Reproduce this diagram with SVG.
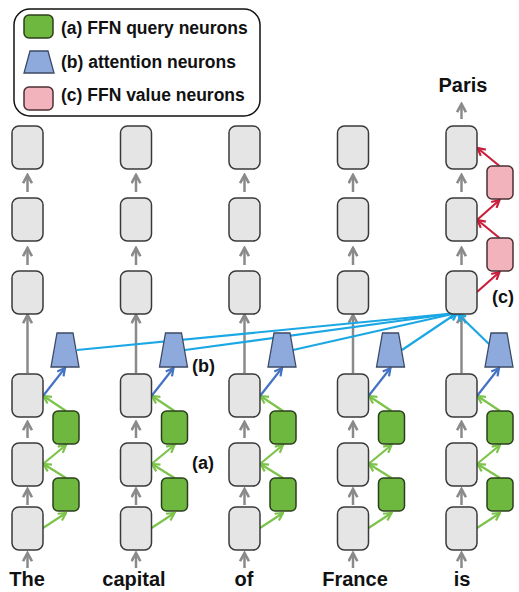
<svg xmlns="http://www.w3.org/2000/svg" width="519" height="592" viewBox="0 0 519 592">
<style>
.box{fill:#e5e5e5;stroke:#3a3a3a;stroke-width:1.5}
.q{fill:#6fb83f;stroke:#2b3f1c;stroke-width:1.5}
.v{fill:#f2b3bd;stroke:#4a3033;stroke-width:1.5}
.att{fill:#8eaadc;stroke:#3c4a66;stroke-width:1.3}
.t{font-family:"Liberation Sans",Arial,sans-serif;font-weight:bold;fill:#111}
.g{stroke:#8a8a8a;stroke-width:2.5;fill:none;marker-end:url(#mg)}
.gr{stroke:#7cc34a;stroke-width:2.2;fill:none;marker-end:url(#mgr)}
.bl{stroke:#4472c4;stroke-width:2.2;fill:none;marker-end:url(#mbl)}
.lb{stroke:#1aa7e4;stroke-width:2.2;fill:none;marker-end:url(#mlb)}
.rd{stroke:#c8203c;stroke-width:2.2;fill:none;marker-end:url(#mrd)}
</style>
<defs>
<marker id="mg" viewBox="0 0 10 10" refX="8.5" refY="5" markerUnits="userSpaceOnUse" markerWidth="11" markerHeight="11" orient="auto"><path d="M1,1 L8.5,5 L1,9" fill="none" stroke="#8a8a8a" stroke-width="2.4"/></marker>
<marker id="mgr" viewBox="0 0 10 10" refX="8.5" refY="5" markerUnits="userSpaceOnUse" markerWidth="10" markerHeight="10" orient="auto"><path d="M1,1 L8.5,5 L1,9" fill="none" stroke="#7cc34a" stroke-width="2.2"/></marker>
<marker id="mbl" viewBox="0 0 10 10" refX="8.5" refY="5" markerUnits="userSpaceOnUse" markerWidth="10" markerHeight="10" orient="auto"><path d="M1,1 L8.5,5 L1,9" fill="none" stroke="#4472c4" stroke-width="2.2"/></marker>
<marker id="mlb" viewBox="0 0 10 10" refX="8.5" refY="5" markerUnits="userSpaceOnUse" markerWidth="10" markerHeight="10" orient="auto"><path d="M1,1 L8.5,5 L1,9" fill="none" stroke="#1aa7e4" stroke-width="2.2"/></marker>
<marker id="mrd" viewBox="0 0 10 10" refX="8.5" refY="5" markerUnits="userSpaceOnUse" markerWidth="10" markerHeight="10" orient="auto"><path d="M1,1 L8.5,5 L1,9" fill="none" stroke="#c8203c" stroke-width="2.2"/></marker>
<rect id="gb" class="box" x="-15.5" y="0" width="31" height="43" rx="7"/>
<rect id="qb" class="q" x="25.5" y="0" width="26" height="33" rx="5"/>
<rect id="vb" class="v" x="25.5" y="0" width="26" height="33" rx="5"/>
<path id="tz" class="att" d="M29.5,0 L45.5,0 L51.5,34 L23.5,34 Z"/>
</defs>

<g id="legend">
<rect x="14" y="9" width="246" height="107" rx="16" fill="#fff" stroke="#111" stroke-width="1.5"/>
<rect class="q" x="24" y="15" width="29" height="23" rx="5"/>
<path class="att" d="M30,51 L48,51 L54,73 L24,73 Z"/>
<rect class="v" x="24" y="87" width="29" height="23" rx="5"/>
<text class="t" x="61" y="34" font-size="17.5">(a) FFN query neurons</text>
<text class="t" x="61" y="68" font-size="17.5">(b) attention neurons</text>
<text class="t" x="61" y="101" font-size="17.5">(c) FFN value neurons</text>
</g>

<g id="connectors">
<g transform="translate(27.5,0)">
<line class="g" x1="0" y1="192" x2="0" y2="175"/><line class="g" x1="0" y1="265" x2="0" y2="248"/><line class="g" x1="0" y1="373" x2="0" y2="315"/><line class="g" x1="0" y1="438" x2="0" y2="422"/><line class="g" x1="0" y1="505" x2="0" y2="489"/><line class="g" x1="0" y1="568" x2="0" y2="553"/>
</g>
<g transform="translate(136,0)">
<line class="g" x1="0" y1="192" x2="0" y2="175"/><line class="g" x1="0" y1="265" x2="0" y2="248"/><line class="g" x1="0" y1="373" x2="0" y2="315"/><line class="g" x1="0" y1="438" x2="0" y2="422"/><line class="g" x1="0" y1="505" x2="0" y2="489"/><line class="g" x1="0" y1="568" x2="0" y2="553"/>
</g>
<g transform="translate(244.5,0)">
<line class="g" x1="0" y1="192" x2="0" y2="175"/><line class="g" x1="0" y1="265" x2="0" y2="248"/><line class="g" x1="0" y1="373" x2="0" y2="315"/><line class="g" x1="0" y1="438" x2="0" y2="422"/><line class="g" x1="0" y1="505" x2="0" y2="489"/><line class="g" x1="0" y1="568" x2="0" y2="553"/>
</g>
<g transform="translate(353,0)">
<line class="g" x1="0" y1="192" x2="0" y2="175"/><line class="g" x1="0" y1="265" x2="0" y2="248"/><line class="g" x1="0" y1="373" x2="0" y2="315"/><line class="g" x1="0" y1="438" x2="0" y2="422"/><line class="g" x1="0" y1="505" x2="0" y2="489"/><line class="g" x1="0" y1="568" x2="0" y2="553"/>
</g>
<g transform="translate(461.5,0)">
<line class="g" x1="0" y1="119" x2="0" y2="104"/><line class="g" x1="0" y1="192" x2="0" y2="175"/><line class="g" x1="0" y1="265" x2="0" y2="248"/><line class="g" x1="0" y1="373" x2="0" y2="315"/><line class="g" x1="0" y1="438" x2="0" y2="422"/><line class="g" x1="0" y1="505" x2="0" y2="489"/><line class="g" x1="0" y1="568" x2="0" y2="553"/>
</g>
<g transform="translate(27.5,0)">
<line class="gr" x1="15.5" y1="528" x2="38.5" y2="513"/><line class="gr" x1="38.5" y1="478" x2="16" y2="464"/><line class="gr" x1="15.5" y1="464" x2="38.5" y2="445"/><line class="gr" x1="38.5" y1="411" x2="16" y2="396"/><line class="bl" x1="15.5" y1="396" x2="37.5" y2="368"/>
</g>
<g transform="translate(136,0)">
<line class="gr" x1="15.5" y1="528" x2="38.5" y2="513"/><line class="gr" x1="38.5" y1="478" x2="16" y2="464"/><line class="gr" x1="15.5" y1="464" x2="38.5" y2="445"/><line class="gr" x1="38.5" y1="411" x2="16" y2="396"/><line class="bl" x1="15.5" y1="396" x2="37.5" y2="368"/>
</g>
<g transform="translate(244.5,0)">
<line class="gr" x1="15.5" y1="528" x2="38.5" y2="513"/><line class="gr" x1="38.5" y1="478" x2="16" y2="464"/><line class="gr" x1="15.5" y1="464" x2="38.5" y2="445"/><line class="gr" x1="38.5" y1="411" x2="16" y2="396"/><line class="bl" x1="15.5" y1="396" x2="37.5" y2="368"/>
</g>
<g transform="translate(353,0)">
<line class="gr" x1="15.5" y1="528" x2="38.5" y2="513"/><line class="gr" x1="38.5" y1="478" x2="16" y2="464"/><line class="gr" x1="15.5" y1="464" x2="38.5" y2="445"/><line class="gr" x1="38.5" y1="411" x2="16" y2="396"/><line class="bl" x1="15.5" y1="396" x2="37.5" y2="368"/>
</g>
<g transform="translate(461.5,0)">
<line class="gr" x1="15.5" y1="528" x2="38.5" y2="513"/><line class="gr" x1="38.5" y1="478" x2="16" y2="464"/><line class="gr" x1="15.5" y1="464" x2="38.5" y2="445"/><line class="gr" x1="38.5" y1="411" x2="16" y2="396"/><line class="bl" x1="15.5" y1="396" x2="37.5" y2="368"/>
<line class="rd" x1="15.5" y1="292" x2="38" y2="272"/><line class="rd" x1="38" y1="238" x2="16" y2="220"/><line class="rd" x1="15.5" y1="220" x2="38" y2="200"/><line class="rd" x1="38" y1="166" x2="16" y2="148"/>
</g>
<line class="lb" x1="77" y1="350" x2="457" y2="313"/>
<line class="lb" x1="185" y1="350" x2="457" y2="313"/>
<line class="lb" x1="293" y1="350" x2="457" y2="313"/>
<line class="lb" x1="402" y1="350" x2="457" y2="313"/>
<line class="lb" x1="490" y1="345" x2="458" y2="314"/>
</g>

<g id="col1" transform="translate(27.5,0)">
<use href="#gb" y="126"/><use href="#gb" y="198"/><use href="#gb" y="271"/><use href="#gb" y="374"/><use href="#gb" y="443"/><use href="#gb" y="507"/>
<use href="#qb" y="411"/><use href="#qb" y="478"/><use href="#tz" y="333"/>
</g>
<g id="col2" transform="translate(136,0)">
<use href="#gb" y="126"/><use href="#gb" y="198"/><use href="#gb" y="271"/><use href="#gb" y="374"/><use href="#gb" y="443"/><use href="#gb" y="507"/>
<use href="#qb" y="411"/><use href="#qb" y="478"/><use href="#tz" y="333"/>
</g>
<g id="col3" transform="translate(244.5,0)">
<use href="#gb" y="126"/><use href="#gb" y="198"/><use href="#gb" y="271"/><use href="#gb" y="374"/><use href="#gb" y="443"/><use href="#gb" y="507"/>
<use href="#qb" y="411"/><use href="#qb" y="478"/><use href="#tz" y="333"/>
</g>
<g id="col4" transform="translate(353,0)">
<use href="#gb" y="126"/><use href="#gb" y="198"/><use href="#gb" y="271"/><use href="#gb" y="374"/><use href="#gb" y="443"/><use href="#gb" y="507"/>
<use href="#qb" y="411"/><use href="#qb" y="478"/><use href="#tz" y="333"/>
</g>
<g id="col5" transform="translate(461.5,0)">
<use href="#gb" y="126"/><use href="#gb" y="198"/><use href="#gb" y="271"/><use href="#gb" y="374"/><use href="#gb" y="443"/><use href="#gb" y="507"/>
<use href="#qb" y="411"/><use href="#qb" y="478"/><use href="#tz" y="333"/>
<use href="#vb" y="166"/><use href="#vb" y="238"/>
</g>

<g id="labels">
<text class="t" x="192" y="469" font-size="18">(a)</text>
<text class="t" x="192" y="372" font-size="18">(b)</text>
<text class="t" x="492" y="303" font-size="18">(c)</text>
<text class="t" x="463" y="92" font-size="20" text-anchor="middle">Paris</text>
<text class="t" x="27" y="586" font-size="20" text-anchor="middle">The</text>
<text class="t" x="134" y="586" font-size="20" text-anchor="middle">capital</text>
<text class="t" x="244" y="586" font-size="20" text-anchor="middle">of</text>
<text class="t" x="355" y="586" font-size="20" text-anchor="middle">France</text>
<text class="t" x="462" y="586" font-size="20" text-anchor="middle">is</text>
</g>
</svg>
